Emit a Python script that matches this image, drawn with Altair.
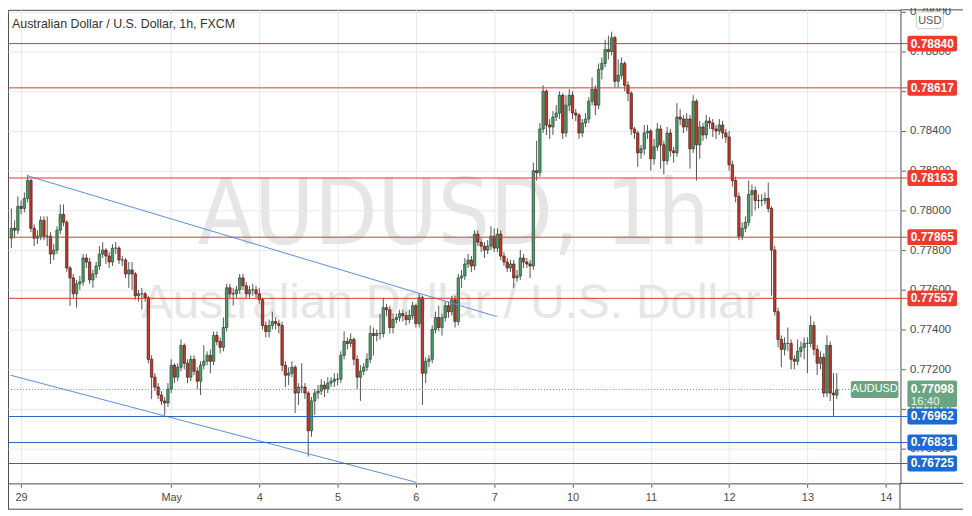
import altair as alt
import pandas as pd

# ---------------- data (prices in pips, 4 decimals) ----------------
FIRST_OPEN = 7786
CLOSE = [
    7791, 7790, 7802, 7801, 7806, 7815, 7791, 7786, 7787, 7795,
    7787, 7787, 7778, 7780, 7790, 7798, 7794, 7771, 7766, 7758,
    7763, 7764, 7776, 7774, 7765, 7768, 7772, 7778, 7780, 7777,
    7774, 7781, 7781, 7775, 7775, 7768, 7770, 7768, 7757, 7758,
    7758, 7756, 7725, 7716, 7711, 7707, 7704, 7703, 7710, 7722,
    7716, 7721, 7732, 7723, 7716, 7725, 7719, 7714, 7722, 7724,
    7727, 7724, 7737, 7734, 7731, 7741, 7761, 7758, 7758, 7760,
    7766, 7762, 7758, 7760, 7760, 7758, 7755, 7742, 7739, 7742,
    7744, 7743, 7742, 7722, 7717, 7718, 7721, 7708, 7711, 7711,
    7708, 7689, 7704, 7708, 7709, 7712, 7710, 7713, 7714, 7715,
    7715, 7727, 7734, 7733, 7735, 7725, 7716, 7719, 7721, 7725,
    7738, 7737, 7738, 7738, 7751, 7750, 7741, 7745, 7746, 7748,
    7747, 7745, 7747, 7752, 7743, 7756, 7718, 7724, 7725, 7740,
    7746, 7741, 7746, 7752, 7749, 7755, 7744, 7766, 7767, 7773,
    7775, 7772, 7788, 7784, 7782, 7780, 7782, 7787, 7781, 7788,
    7777, 7774, 7771, 7773, 7766, 7767, 7776, 7774, 7773, 7772,
    7820, 7819, 7841, 7860, 7843, 7842, 7847, 7849, 7858, 7839,
    7853, 7858, 7849, 7848, 7839, 7844, 7846, 7855, 7861, 7853,
    7871, 7874, 7881, 7880, 7887, 7865, 7868, 7874, 7863, 7859,
    7841, 7839, 7829, 7831, 7839, 7840, 7826, 7832, 7841, 7833,
    7825, 7839, 7830, 7829, 7847, 7846, 7842, 7846, 7831, 7855,
    7833, 7842, 7838, 7845, 7844, 7841, 7840, 7843, 7839, 7837,
    7823, 7815, 7807, 7787, 7791, 7794, 7808, 7810, 7805, 7805,
    7805, 7806, 7801, 7780, 7749, 7735, 7730, 7733, 7733, 7725,
    7724, 7729, 7731, 7733, 7733, 7742, 7730, 7723, 7726, 7708,
    7732, 7708, 7707, 7709.8,
]
HIGH = [
    7801, 7795, 7807, 7805, 7809, 7818, 7816, 7793, 7790, 7797,
    7797, 7797, 7789, 7783, 7792, 7803, 7803, 7795, 7772, 7768,
    7765, 7767, 7778, 7778, 7776, 7770, 7774, 7782, 7784, 7781,
    7779, 7783, 7784, 7782, 7777, 7776, 7774, 7774, 7769, 7760,
    7761, 7759, 7757, 7727, 7718, 7713, 7709, 7706, 7713, 7725,
    7723, 7723, 7735, 7733, 7725, 7727, 7727, 7721, 7724, 7732,
    7729, 7730, 7739, 7739, 7736, 7746, 7763, 7763, 7761, 7762,
    7768, 7768, 7764, 7762, 7763, 7762, 7761, 7756, 7744, 7745,
    7749, 7746, 7745, 7744, 7724, 7721, 7724, 7722, 7713, 7723,
    7713, 7709, 7706, 7710, 7712, 7715, 7714, 7716, 7716, 7718,
    7718, 7729, 7739, 7736, 7738, 7736, 7727, 7722, 7723, 7728,
    7742, 7741, 7740, 7748, 7756, 7753, 7752, 7748, 7748, 7750,
    7750, 7749, 7750, 7754, 7753, 7758, 7757, 7726, 7727, 7742,
    7749, 7752, 7748, 7754, 7754, 7757, 7757, 7768, 7770, 7776,
    7778, 7777, 7790, 7790, 7786, 7784, 7785, 7792, 7791, 7791,
    7790, 7779, 7776, 7775, 7775, 7770, 7780, 7778, 7776, 7775,
    7824, 7835, 7844, 7863, 7861, 7846, 7850, 7853, 7860, 7859,
    7858, 7861, 7860, 7851, 7849, 7846, 7849, 7857, 7867, 7863,
    7874, 7877, 7886, 7888, 7890, 7888, 7876, 7877, 7875, 7865,
    7860, 7842, 7840, 7833, 7843, 7843, 7841, 7836, 7844, 7843,
    7835, 7842, 7841, 7832, 7854, 7851, 7848, 7849, 7848, 7858,
    7856, 7845, 7844, 7848, 7847, 7846, 7843, 7846, 7845, 7841,
    7840, 7825, 7817, 7809, 7794, 7797, 7815, 7813, 7812, 7808,
    7808, 7809, 7814, 7802, 7782, 7751, 7737, 7736, 7741, 7735,
    7727, 7735, 7734, 7736, 7736, 7747, 7744, 7732, 7729, 7728,
    7737, 7734, 7718, 7718,
]
LOW = [
    7781, 7786, 7788, 7798, 7799, 7804, 7789, 7782, 7783, 7785,
    7785, 7782, 7773, 7775, 7778, 7788, 7792, 7769, 7752, 7756,
    7751, 7760, 7762, 7771, 7763, 7761, 7766, 7770, 7776, 7773,
    7771, 7772, 7778, 7773, 7772, 7766, 7761, 7760, 7755, 7754,
    7750, 7754, 7723, 7705, 7709, 7705, 7702, 7697, 7701, 7708,
    7713, 7714, 7719, 7720, 7713, 7714, 7717, 7710, 7707, 7720,
    7722, 7718, 7722, 7732, 7728, 7729, 7739, 7756, 7752, 7756,
    7758, 7760, 7756, 7756, 7757, 7756, 7753, 7740, 7736, 7736,
    7740, 7740, 7738, 7719, 7711, 7712, 7716, 7698, 7702, 7708,
    7705, 7676, 7686, 7697, 7705, 7707, 7706, 7708, 7711, 7711,
    7712, 7713, 7725, 7730, 7731, 7722, 7710, 7704, 7717, 7719,
    7723, 7727, 7734, 7735, 7736, 7747, 7738, 7738, 7743, 7744,
    7744, 7742, 7743, 7745, 7741, 7741, 7702, 7713, 7721, 7723,
    7738, 7739, 7737, 7744, 7746, 7747, 7741, 7742, 7761, 7765,
    7771, 7769, 7770, 7782, 7779, 7776, 7778, 7780, 7779, 7779,
    7775, 7772, 7769, 7769, 7761, 7764, 7765, 7771, 7771, 7766,
    7770, 7815, 7817, 7839, 7838, 7836, 7838, 7845, 7846, 7836,
    7837, 7850, 7846, 7845, 7836, 7837, 7842, 7844, 7853, 7848,
    7851, 7866, 7872, 7876, 7878, 7862, 7862, 7866, 7860, 7855,
    7838, 7836, 7822, 7826, 7828, 7836, 7820, 7823, 7830, 7821,
    7818, 7823, 7827, 7824, 7827, 7843, 7839, 7840, 7821, 7829,
    7815, 7826, 7835, 7836, 7841, 7837, 7836, 7838, 7836, 7834,
    7820, 7812, 7804, 7785, 7785, 7789, 7792, 7797, 7800, 7801,
    7802, 7803, 7799, 7757, 7747, 7731, 7721, 7727, 7729, 7720,
    7720, 7722, 7726, 7725, 7718, 7731, 7727, 7717, 7720, 7706,
    7706, 7704, 7696.5, 7705,
]

TICK_IDX = [3, 49, 76, 100, 124, 148, 172, 196, 220, 244, 268]
TICK_LABELS = ["29", "May", "4", "5", "6", "7", "10", "11", "12", "13", "14"]
PRICE_TICKS = [0.768, 0.770, 0.772, 0.774, 0.776, 0.778, 0.780,
               0.782, 0.784, 0.786, 0.788, 0.790]

RED_LEVELS = [0.78840, 0.78617, 0.78163, 0.77865, 0.77557]
BLUE_LEVELS = [0.76962, 0.76831, 0.76725]
LAST_PRICE = 0.77098
SYMBOL = "AUDUSD"
COUNTDOWN = "16:40"
TREND_A_IDX = [4.8, 148.8]
TREND_A_PRICE = [0.78175, 0.77465]
TREND_B_IDX = [-0.3, 124.2]
TREND_B_PRICE = [0.77170, 0.76630]

TITLE = "Australian Dollar / U.S. Dollar, 1h, FXCM"
WM_BIG = "AUDUSD, 1h"
WM_SMALL = "Australian Dollar / U.S. Dollar"

# ---------------- frames ----------------
S = 10000.0
opens = [FIRST_OPEN] + CLOSE[:-1]
candles = pd.DataFrame({
    "i": list(range(len(CLOSE))),
    "open": [v / S for v in opens],
    "close": [v / S for v in CLOSE],
    "high": [v / S for v in HIGH],
    "low": [v / S for v in LOW],
})

W, H = 899, 477
XDOM = [0.5, 271.0]
YDOM = [0.76625, 0.7901]

FONT = "Liberation Sans, Arial, sans-serif"
NARROW = "DejaVu Sans Condensed, Liberation Sans Narrow, Liberation Sans, Arial, sans-serif"
UP_FILL, UP_STROKE = "#509b6c", "#1f4a2f"
DN_FILL, DN_STROKE = "#c03a2b", "#4e1710"
RED_LINE, RED_BOX = "#d03b35", "#f0392f"
BLUE_LINE, BLUE_BOX = "#2a62b8", "#1c6bd2"
GREEN_BOX = "#6aa582"
TREND = "#5b8fdc"

xs = alt.Scale(domain=XDOM, nice=False, zero=False)
ys = alt.Scale(domain=YDOM, nice=False, zero=False)
label_map = "{" + ",".join(f"'{i}':'{l}'" for i, l in zip(TICK_IDX, TICK_LABELS)) + "}"
x_axis = alt.Axis(values=TICK_IDX, labelExpr=f"{label_map}[datum.value]", title=None,
                  grid=True, gridColor="#e8e8e8", domain=False, ticks=True,
                  tickColor="#666666", tickSize=4, labelColor="#4a4a4a",
                  labelFontSize=11, labelFont=FONT, labelPadding=4, labelFlush=False)
y_axis = alt.Axis(orient="right", values=PRICE_TICKS, format=".5f", title=None,
                  grid=True, gridColor="#e8e8e8", domain=False, ticks=True,
                  tickColor="#666666", tickSize=5, labelColor="#4a4a4a",
                  labelFontSize=11.5, labelFont=FONT, labelPadding=4, zindex=0)


def X(field):
    return alt.X(field, type="quantitative", scale=xs, axis=x_axis)


def Y(field):
    return alt.Y(field, type="quantitative", scale=ys, axis=y_axis)


one = pd.DataFrame({"k": [0]})

wm_big = alt.Chart(one).mark_text(text=WM_BIG, font=NARROW, fontSize=92, color="#e6e6e6",
                                  align="center", baseline="alphabetic").encode(
    x=alt.value(449), y=alt.value(236))
wm_small = alt.Chart(one).mark_text(text=WM_SMALL, font=FONT, fontSize=48, color="#e6e6e6",
                                    align="center", baseline="alphabetic").encode(
    x=alt.value(446), y=alt.value(310))

wicks = alt.Chart(candles).mark_rule(color="#555555", strokeWidth=1, clip=True).encode(
    x=X("i"), y=Y("low"), y2="high")
bodies = alt.Chart(candles).mark_bar(size=2.4, strokeWidth=0.7, clip=True).encode(
    x=X("i"), y=Y("open"), y2="close",
    fill=alt.condition("datum.close >= datum.open", alt.value(UP_FILL), alt.value(DN_FILL)),
    stroke=alt.condition("datum.close >= datum.open", alt.value(UP_STROKE), alt.value(DN_STROKE)))

trend_df = pd.DataFrame({
    "i": TREND_A_IDX + TREND_B_IDX,
    "p": TREND_A_PRICE + TREND_B_PRICE,
    "g": ["a", "a", "b", "b"],
})
trends = alt.Chart(trend_df).mark_line(color=TREND, strokeWidth=1, clip=True).encode(
    x=X("i"), y=Y("p"), detail="g:N")

red_df = pd.DataFrame({"p": RED_LEVELS, "t": [f"{v:.5f}" for v in RED_LEVELS]})
blue_df = pd.DataFrame({"p": BLUE_LEVELS, "t": [f"{v:.5f}" for v in BLUE_LEVELS]})
last_df = pd.DataFrame({"p": [LAST_PRICE], "t": [f"{LAST_PRICE:.5f}"], "c": [COUNTDOWN], "s": [SYMBOL]})


def level_layers(df, line_col, box_col):
    line = alt.Chart(df).mark_rule(color=line_col, strokeWidth=1).encode(
        y=Y("p"), x=alt.value(0), x2=alt.value(906))
    box = alt.Chart(df).mark_tick(orient="horizontal", thickness=16, size=50, color=box_col,
                                  opacity=1, cornerRadius=2).encode(
        y=Y("p"), x=alt.value(931))
    txt = alt.Chart(df).mark_text(color="white", fontWeight="bold", fontSize=12, font=FONT,
                                  align="center", baseline="middle").encode(
        y=Y("p"), x=alt.value(931), text="t:N")
    return [line, box, txt]


last_line = alt.Chart(last_df).mark_rule(color="#6b8f7a", strokeWidth=1, strokeDash=[1, 2]).encode(
    y=Y("p"), x=alt.value(0), x2=alt.value(849))
last_sym_box = alt.Chart(last_df).mark_tick(orient="horizontal", thickness=17, size=48,
                                            color=GREEN_BOX, opacity=1,
                                            cornerRadius=2).encode(y=Y("p"), x=alt.value(873))
last_sym_txt = alt.Chart(last_df).mark_text(color="white", fontSize=11, font=FONT,
                                            align="center", baseline="middle").encode(
    y=Y("p"), x=alt.value(873), text="s:N")
last_box = alt.Chart(last_df).mark_tick(orient="horizontal", thickness=27, size=50,
                                        color=GREEN_BOX, opacity=1, cornerRadius=2,
                                        yOffset=4.5).encode(y=Y("p"), x=alt.value(931))
last_txt = alt.Chart(last_df).mark_text(color="white", fontWeight="bold", fontSize=12, font=FONT,
                                        align="center", baseline="middle").encode(
    y=Y("p"), x=alt.value(931), text="t:N")
last_cd = alt.Chart(last_df).mark_text(color="#eef5f0", fontSize=11.5, font=FONT,
                                       align="center", baseline="middle", dy=13).encode(
    y=Y("p"), x=alt.value(924), text="c:N")

title_txt = alt.Chart(one).mark_text(text=TITLE, font=FONT, fontSize=12.5, color="#333333",
                                     align="left", baseline="middle").encode(
    x=alt.value(4), y=alt.value(14))

usd_box = alt.Chart(one).mark_rect(fill="white", stroke="#c8c8c8", strokeWidth=1,
                                   cornerRadius=3).encode(
    x=alt.value(915), x2=alt.value(942), y=alt.value(2), y2=alt.value(19))
usd_txt = alt.Chart(one).mark_text(text="USD", font=FONT, fontSize=11, color="#555555",
                                   align="center", baseline="middle").encode(
    x=alt.value(928.5), y=alt.value(11))

FR = "#4d4d4d"
frames = [
    alt.Chart(one).mark_rule(color=FR, strokeWidth=1).encode(
        x=alt.value(W), x2=alt.value(962), y=alt.value(H)),
    alt.Chart(one).mark_rule(color=FR, strokeWidth=1).encode(
        x=alt.value(W), x2=alt.value(962), y=alt.value(0)),
    alt.Chart(one).mark_rule(color=FR, strokeWidth=1).encode(
        x=alt.value(0), x2=alt.value(962), y=alt.value(503)),
    alt.Chart(one).mark_rule(color=FR, strokeWidth=1).encode(
        x=alt.value(0.5), y=alt.value(H), y2=alt.value(503)),
    alt.Chart(one).mark_rule(color=FR, strokeWidth=1).encode(
        x=alt.value(W - 0.5), y=alt.value(H), y2=alt.value(503)),
]

layers = ([wm_big, wm_small, wicks, bodies, trends]
          + level_layers(red_df, RED_LINE, RED_BOX)
          + level_layers(blue_df, BLUE_LINE, BLUE_BOX)
          + [last_line, last_sym_box, last_sym_txt, last_box, last_txt, last_cd,
             title_txt, usd_box, usd_txt] + frames)

chart = alt.layer(*layers).properties(
    width=W, height=H,
    autosize=alt.AutoSizeParams(type="none"),
    padding={"left": 0, "top": 0, "right": 64, "bottom": 31},
    background="white",
).configure_view(stroke=FR, strokeWidth=1)

chart.save("out.html", embed_options={"renderer": "svg", "actions": False})
